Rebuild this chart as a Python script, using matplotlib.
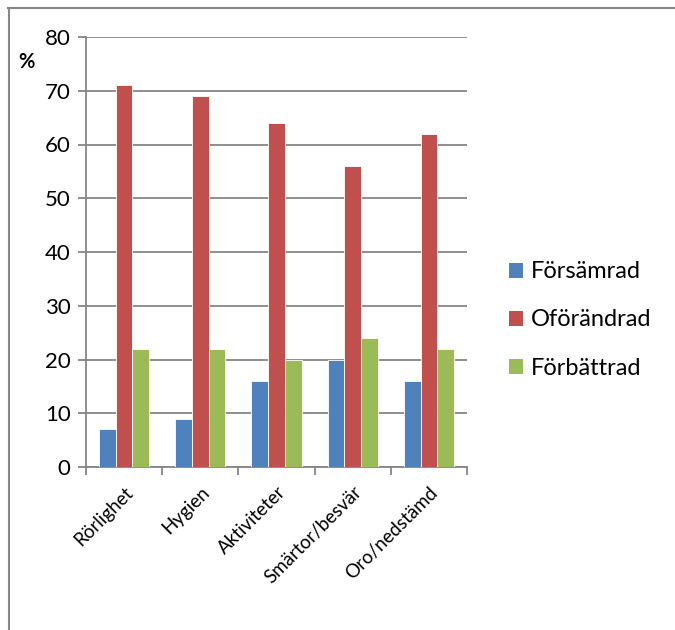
import matplotlib
matplotlib.use("Agg")
import matplotlib.pyplot as plt
import numpy as np
from matplotlib.lines import Line2D
from matplotlib.patches import Patch

plt.rcParams['font.family'] = ['Lato', 'DejaVu Sans']

categories = ["Rörlighet", "Hygien", "Aktiviteter", "Smärtor/besvär", "Oro/nedstämd"]
series_names = ["Försämrad", "Oförändrad", "Förbättrad"]
forsamrad = [7, 9, 16, 20, 16]
oforandrad = [71, 69, 64, 56, 62]
forbattrad = [22, 22, 20, 24, 22]
y_ticks = [0, 10, 20, 30, 40, 50, 60, 70, 80]

colors = ["#4F81BD", "#C0504D", "#9BBB59"]
grid_color = "#868686"

fig = plt.figure(figsize=(6.75, 6.3), dpi=100)
ax = fig.add_axes([86 / 675, 1 - 467 / 630, 381 / 675, 430 / 630])

x = np.arange(len(categories))
w = 0.22
for i, (vals, c) in enumerate(zip([forsamrad, oforandrad, forbattrad], colors)):
    ax.bar(x + (i - 1) * w, vals, width=w, color=c, edgecolor="white",
           linewidth=0.6, zorder=3, label=series_names[i])

ax.set_xlim(-0.5, len(categories) - 0.5)
ax.set_ylim(0, 80)
ax.set_yticks(y_ticks)
ax.set_yticklabels([str(v) for v in y_ticks], fontsize=16)
ax.yaxis.grid(True, color=grid_color, linewidth=1.3, zorder=0)
ax.set_axisbelow(True)

ax.set_xticks(x)
ax.set_xticklabels(categories, rotation=45, ha="right", rotation_mode="anchor",
                   fontsize=13.5)
ax.tick_params(axis="x", length=0, pad=12)
ax.set_xticks(np.arange(-0.5, len(categories)), minor=True)
ax.tick_params(axis="x", which="minor", length=6, color=grid_color, width=1.3)
ax.tick_params(axis="y", length=6, color=grid_color, width=1.3, pad=5)

for s in ["top", "right"]:
    ax.spines[s].set_visible(False)
for s in ["left", "bottom"]:
    ax.spines[s].set_color(grid_color)
    ax.spines[s].set_linewidth(1.3)

fig.text(26 / 675, 1 - 62 / 630, "%", fontsize=14.5, fontweight="bold",
         ha="center", va="center")

handles = [Patch(facecolor=c, edgecolor="none") for c in colors]
fig.legend(handles, series_names, loc="center left",
           bbox_to_anchor=(488 / 675, 1 - 320 / 630), frameon=False,
           fontsize=17, handlelength=0.6, handleheight=0.6,
           handletextpad=0.3, labelspacing=1.15)

# outer border (top and left edges)
fig.add_artist(Line2D([8 / 675, 1], [1 - 8 / 630, 1 - 8 / 630],
                      transform=fig.transFigure, color="#888888", linewidth=1.5))
fig.add_artist(Line2D([8.5 / 675, 8.5 / 675], [0, 1 - 8 / 630],
                      transform=fig.transFigure, color="#888888", linewidth=1.5))

fig.savefig("out.png", dpi=100, facecolor="white")
